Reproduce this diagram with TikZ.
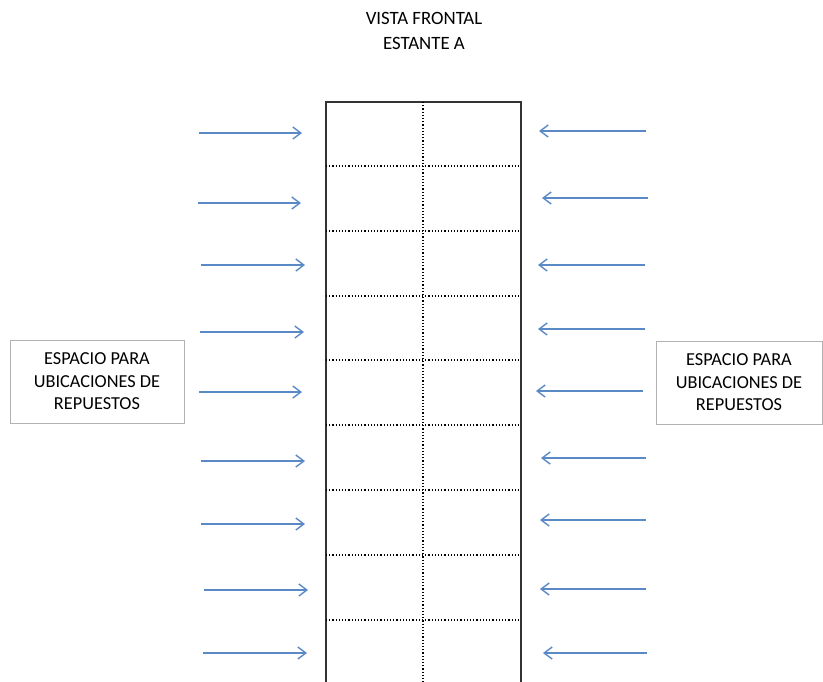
\documentclass[tikz,border=0pt]{standalone}
\usepackage{fontspec}
\setmainfont{Carlito}
\usetikzlibrary{arrows.meta}
\definecolor{arrowblue}{HTML}{5A8AC6}
\tikzset{
  spacebox/.style={draw=black!30, line width=1pt, minimum width=174pt, minimum height=83pt,
    align=center, inner sep=0pt, font=\fontsize{18.3}{22.5}\selectfont},
  pointer/.style={draw=arrowblue, line width=1.4pt, -{Straight Barb[length=8pt,width=12pt,line width=1.4pt]}},
  shelfline/.style={draw=black!80, line width=1.5pt},
  shelfdiv/.style={draw=black, line width=1.2pt, dotted}
}
\begin{document}
\begin{tikzpicture}[x=1pt, y=-1pt]
  \useasboundingbox (0,0) rectangle (823,681);
  % title
  \node[font=\fontsize{18.8}{25}\selectfont, align=center] (title) at (424,31) {VISTA FRONTAL\\ESTANTE A};
  % shelf
  \draw[shelfline] (326,690) -- (326,102) -- (521,102) -- (521,690);
  \draw[shelfdiv] (423,102) -- (423,690);
  \foreach \y in {166,231,296,360,425,490,555,620}
    \draw[shelfdiv] (326,\y) -- (521,\y);
  % text boxes
  \node[spacebox] (leftbox) at (97,381.5) {ESPACIO PARA\\UBICACIONES DE\\REPUESTOS};
  \node[spacebox, minimum width=166pt] (rightbox) at (739,382.5) {ESPACIO PARA\\UBICACIONES DE\\REPUESTOS};
  % arrows on the left
  \foreach \i/\xa/\xb/\y in {1/199/302/133, 2/198/301/203, 3/201/305/265, 4/200/304/332,
      5/199/302/392, 6/201/305/461, 7/201/305/524, 8/204/308/590, 9/203/307/653} {
    \coordinate (la\i) at (\xa,\y);
    \coordinate (lb\i) at (\xb,\y);
    \draw[pointer] (la\i) -- (lb\i);
  }
  % arrows on the right
  \foreach \i/\xa/\xb/\y in {1/646/539/131, 2/648/542/198, 3/645/538/265, 4/645/538/329,
      5/643/536/391, 6/646/541/458, 7/646/540/520, 8/646/540/589, 9/647/543/653} {
    \coordinate (ra\i) at (\xa,\y);
    \coordinate (rb\i) at (\xb,\y);
    \draw[pointer] (ra\i) -- (rb\i);
  }
\end{tikzpicture}
\end{document}
